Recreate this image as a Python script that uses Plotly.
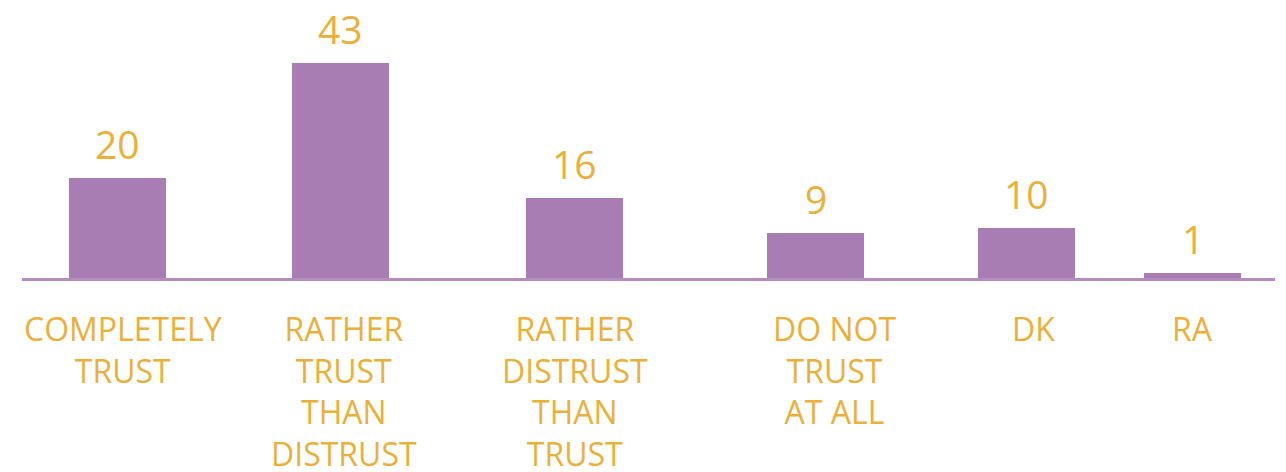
import plotly.graph_objects as go

categories = ['COMPLETELY<br>TRUST', 'RATHER<br>TRUST<br>THAN<br>DISTRUST',
              'RATHER<br>DISTRUST<br>THAN<br>TRUST', 'DO NOT<br>TRUST<br>AT ALL', 'DK', 'RA']
values = [20, 43, 16, 9, 10, 1]

# layout: uneven slot centres along the axis, as in the original
slots = [0.955, 3.185, 5.525, 7.935, 10.045, 11.705]
label_nudge = [5, 3, 0, 19, 7, 0]  # px, category labels are not quite centred under bars

bar_color = '#A87DB4'
text_color = '#EBB03A'
font_family = 'Open Sans'

fig = go.Figure()
fig.add_trace(go.Bar(x=slots, y=values, width=0.97, marker=dict(color=bar_color, line=dict(width=0)),
                     hoverinfo='skip'))

for x, v, c, dx in zip(slots, values, categories, label_nudge):
    fig.add_annotation(x=x, y=v, text=str(v), showarrow=False, yanchor='bottom', yshift=6,
                       font=dict(family=font_family, size=39, color=text_color))
    fig.add_annotation(x=x, y=0, text=c, showarrow=False, yanchor='top', yshift=-27, xshift=dx,
                       font=dict(family=font_family, size=32, color=text_color))

# page body has an 8px margin, so the figure is nudged up/left to compensate
fig.update_layout(
    width=1286, height=472,
    margin=dict(l=14, r=19, t=0, b=202),
    paper_bgcolor='white', plot_bgcolor='white',
    showlegend=False,
    xaxis=dict(range=[0, 12.53], showgrid=False, zeroline=False, showticklabels=False,
               showline=True, linecolor='#B48CC0', linewidth=3, ticks=''),
    yaxis=dict(range=[0, 54], visible=False),
)
fig.write_html("out.html")
